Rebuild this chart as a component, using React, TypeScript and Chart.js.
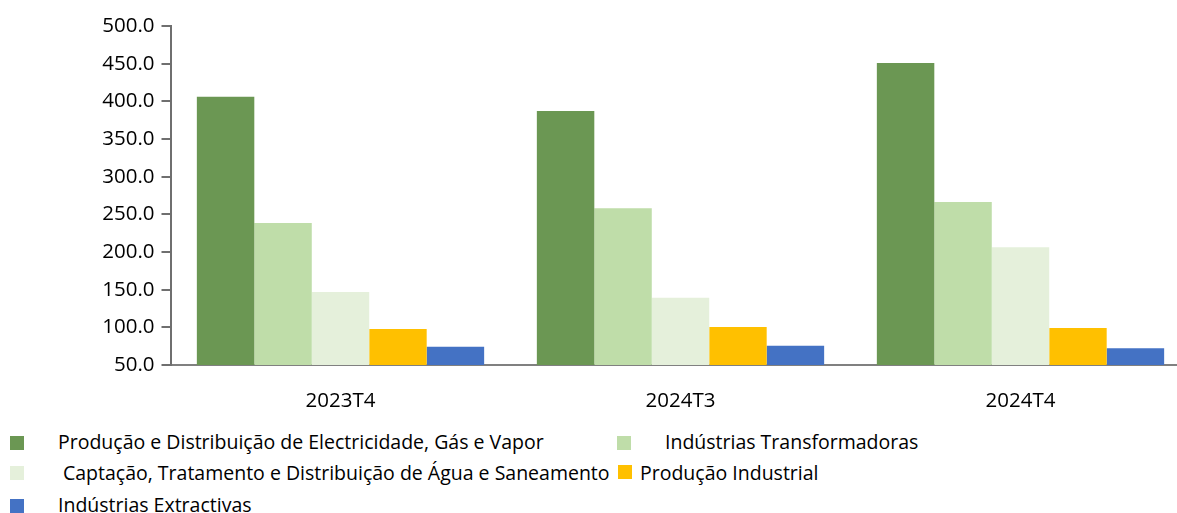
import React, { useEffect, useRef } from "react";
import { Chart, registerables } from "chart.js";

Chart.register(...registerables);

const categories = ["2023T4", "2024T3", "2024T4"];

const seriesNames = [
  "Produção e Distribuição de Electricidade, Gás e Vapor",
  "Indústrias Transformadoras",
  "Captação, Tratamento e Distribuição de Água e Saneamento",
  "Produção Industrial",
  "Indústrias Extractivas",
];

const electricidade = [406.2, 387.2, 450.9];
const transformadoras = [238.5, 258.0, 266.4];
const agua = [146.9, 139.4, 206.2];
const producaoIndustrial = [97.8, 100.4, 99.1];
const extractivas = [74.3, 75.6, 72.1];

const seriesColors = ["#6B9753", "#BFDDA9", "#E5F0DB", "#FFC000", "#4472C4"];

const yMin = 50;
const yMax = 500;
const yStep = 50;

const FONT = "'Open Sans', 'Noto Sans', sans-serif";

const legendLayout = [
  { sq: [10, 436], tx: [58, 431.5] },
  { sq: [617, 436], tx: [665, 431.5] },
  { sq: [10, 466], tx: [63, 463] },
  { sq: [618, 465], tx: [640, 463] },
  { sq: [10, 499], tx: [58, 494.5] },
];

export default function App() {
  const canvasRef = useRef<HTMLCanvasElement | null>(null);

  useEffect(() => {
    const canvas = canvasRef.current;
    if (!canvas) return;
    const values = [electricidade, transformadoras, agua, producaoIndustrial, extractivas];
    const chart = new Chart(canvas, {
      type: "bar",
      data: {
        labels: categories,
        datasets: values.map((d, i) => ({
          label: seriesNames[i],
          data: d,
          backgroundColor: seriesColors[i],
          borderWidth: 0,
          categoryPercentage: 0.845,
          barPercentage: 1,
        })),
      },
      options: {
        responsive: false,
        animation: false,
        devicePixelRatio: 1,
        layout: { padding: { top: 26, right: 9.5, left: 0, bottom: 0 } },
        plugins: {
          legend: { display: false },
          tooltip: { enabled: false },
        },
        scales: {
          x: {
            offset: true,
            grid: { display: false },
            border: { display: true, color: "#808080", width: 2 },
            ticks: {
              color: "#000",
              font: { family: FONT, size: 20.5 },
              padding: 16,
            },
            afterFit: (scale: any) => {
              scale.height = 55;
            },
          },
          y: {
            min: yMin,
            max: yMax,
            ticks: {
              stepSize: yStep,
              color: "#000",
              font: { family: FONT, size: 20.5 },
              padding: 7,
              callback: (v: any) => Number(v).toFixed(1),
            },
            grid: {
              drawOnChartArea: false,
              drawTicks: true,
              tickLength: 9,
              color: "#6f6f6f",
              lineWidth: 2,
            },
            border: { display: true, color: "#6f6f6f", width: 2 },
            afterFit: (scale: any) => {
              scale.width = 170.5;
            },
          },
        },
      },
    });
    return () => chart.destroy();
  }, []);

  return (
    <div
      style={{
        position: "fixed",
        left: 0,
        top: 0,
        width: 1177,
        height: 513,
        overflow: "hidden",
        background: "#fff",
        fontFamily: FONT,
      }}
    >
      <canvas
        ref={canvasRef}
        width={1200}
        height={420}
        style={{ position: "absolute", left: 0, top: 0, width: 1200, height: 420 }}
      />
      {legendLayout.map((l, i) => (
        <React.Fragment key={i}>
          <div
            style={{
              position: "absolute",
              left: l.sq[0],
              top: l.sq[1],
              width: 14,
              height: 14,
              background: seriesColors[i],
            }}
          />
          <div
            style={{
              position: "absolute",
              left: l.tx[0],
              top: l.tx[1],
              fontSize: 19.5,
              lineHeight: "19.5px",
              color: "#000",
              whiteSpace: "nowrap",
            }}
          >
            {seriesNames[i]}
          </div>
        </React.Fragment>
      ))}
    </div>
  );
}
